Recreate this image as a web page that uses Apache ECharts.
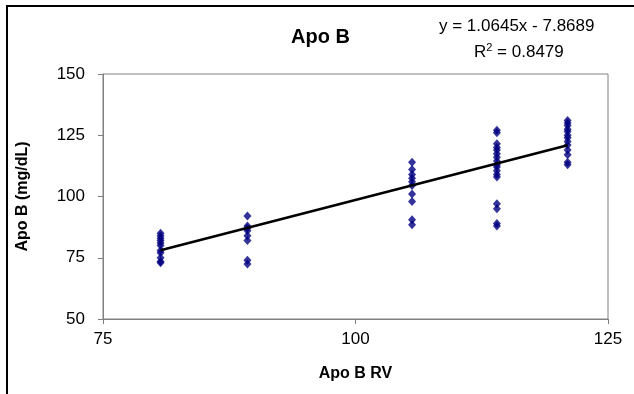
<!DOCTYPE html>
<html>
<head>
<meta charset="utf-8">
<script src="https://cdn.jsdelivr.net/npm/echarts@6/dist/echarts.min.js"></script>
<style>
  html, body { margin: 0; padding: 0; background: #fff; }
  #main { width: 634px; height: 394px; }
</style>
</head>
<body>
<div id="main"></div>
<script>
// Apo B RV levels (x) and the measured Apo B values at each level (y)
const rvLevels = [80.7, 89.3, 105.6, 114.0, 121.0];
const group1 = [85, 84, 83, 82, 81, 80, 78, 77, 75, 73.5, 73];
const group2 = [92, 88, 87, 86, 84, 82, 74, 72.5];
const group3 = [114, 111, 109, 107.5, 106, 104.5, 101, 98, 90.5, 88.5];
const group4 = [127, 126, 121.5, 120, 119, 117.5, 116, 114.5, 113, 112, 110.5, 109, 108, 97, 95, 89, 88];
const group5 = [131, 130, 129, 127.5, 126.5, 125, 124, 122.5, 121, 119, 117, 114, 113];
const groups = [group1, group2, group3, group4, group5];

// trendline as printed on the chart
const slope = 1.0645;
const intercept = -7.8689;
const xTicks = [75, 100, 125];
const yTicks = [50, 75, 100, 125, 150];

const chartDom = document.getElementById("main");
const myChart = echarts.init(chartDom);

const points = [];
groups.forEach((vals, i) => {
  vals.forEach((v) => points.push([rvLevels[i], v]));
});
const xMin = rvLevels[0];
const xMax = rvLevels[rvLevels.length - 1];
const trend = [
  [xMin, slope * xMin + intercept],
  [xMax, slope * xMax + intercept],
];

const font = "Arial, 'Liberation Sans', sans-serif";

const option = {
  animation: false,
  backgroundColor: "#fff",
  graphic: [
    {
      type: "rect",
      shape: { x: 7, y: 6, width: 700, height: 500 },
      style: { fill: null, stroke: "#000", lineWidth: 2 },
      silent: true,
    },
    {
      type: "text",
      left: 291,
      top: 27,
      style: { text: "Apo B", fontSize: 20, fontWeight: "bold", fontFamily: font, fill: "#000" },
    },
    {
      type: "text",
      left: 439,
      top: 18,
      style: { text: "y = 1.0645x - 7.8689", fontSize: 17, fontFamily: font, fill: "#000" },
    },
    {
      type: "text",
      left: 474,
      top: 42,
      style: {
        text: "R{sup|2} = 0.8479",
        fontSize: 17,
        fontFamily: font,
        fill: "#000",
        rich: { sup: { fontSize: 11, fontFamily: font, verticalAlign: "top", padding: [0, 0, 9, 0] } },
      },
    },
  ],
  grid: {
    left: 103,
    right: 26,
    top: 74,
    bottom: 75,
    show: true,
    borderColor: "#808080",
    borderWidth: 1,
  },
  xAxis: {
    type: "value",
    min: xTicks[0],
    max: xTicks[xTicks.length - 1],
    interval: 25,
    name: "Apo B RV",
    nameLocation: "middle",
    nameGap: 47,
    nameTextStyle: { fontSize: 16, fontWeight: "bold", fontFamily: font, color: "#000" },
    axisLine: { lineStyle: { color: "#808080" } },
    axisTick: { inside: false, length: 5, lineStyle: { color: "#808080" } },
    axisLabel: { fontSize: 17, fontFamily: font, color: "#000", margin: 12 },
    splitLine: { show: false },
  },
  yAxis: {
    type: "value",
    min: yTicks[0],
    max: yTicks[yTicks.length - 1],
    interval: 25,
    name: "Apo B (mg/dL)",
    nameLocation: "middle",
    nameGap: 72,
    nameTextStyle: { fontSize: 16, fontWeight: "bold", fontFamily: font, color: "#000" },
    axisLine: { show: true, lineStyle: { color: "#808080" } },
    axisTick: { show: true, inside: false, length: 5, lineStyle: { color: "#808080" } },
    axisLabel: { fontSize: 17, fontFamily: font, color: "#000", margin: 18 },
    splitLine: { show: false },
  },
  series: [
    {
      type: "line",
      data: trend,
      symbol: "none",
      lineStyle: { color: "#000", width: 2.5 },
      z: 3,
    },
    {
      type: "scatter",
      data: points,
      symbol: "diamond",
      symbolSize: [8, 9],
      itemStyle: { color: "#000080" },
      z: 2,
    },
  ],
};

myChart.setOption(option);
</script>
</body>
</html>
